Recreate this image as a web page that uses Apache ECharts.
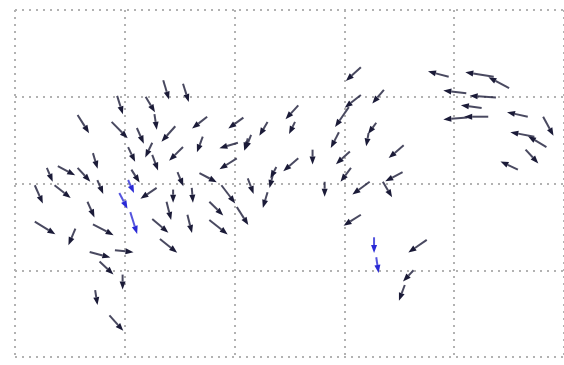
<!DOCTYPE html>
<html>
<head>
<meta charset="utf-8">
<script src="https://cdn.jsdelivr.net/npm/echarts@6/dist/echarts.min.js"></script>
<style>
  html, body { margin: 0; padding: 0; background: #fff; }
  #chart { width: 564px; height: 365px; filter: blur(0.6px); }
</style>
</head>
<body>
<div id="chart"></div>
<script>
// quiver arrows: tail position (x, y) and displacement (u, v)
const arrowX = [1.35, 1.53, 0.93, 1.19, 1.27, 0.57, 0.88, 1.11, 1.46, 1.75, 1.71, 2.08, 2.30, 2.03, 2.15, 2.02, 1.25, 1.03, 1.53, 0.71,
  0.29, 0.39, 0.57, 1.25, 1.68, 2.38, 3.15, 3.95, 4.36, 4.50, 4.11, 4.38, 4.25, 4.31, 4.12, 4.67, 4.81, 4.73, 4.84, 4.65,
  4.58, 3.15, 3.04, 3.36, 2.58, 2.55, 2.95, 3.29, 3.22, 2.58, 2.71, 3.05, 3.54, 3.53, 3.06, 0.18, 0.36, 0.18, 0.55, 0.66,
  0.71, 0.91, 0.68, 0.77, 0.98, 0.73, 0.86, 0.95, 1.05, 1.25, 1.32, 1.38, 1.57, 1.77, 1.77, 2.02, 2.30, 1.29, 1.44, 1.61,
  3.15, 3.27, 3.29, 3.75, 3.63, 3.55, 2.82, 3.23, 3.35, 1.88, 2.12, 2.35, 2.12, 1.06, 1.03, 0.75, 1.48];
const arrowY = [3.19, 3.15, 3.01, 3.00, 2.80, 2.79, 2.71, 2.64, 2.66, 2.77, 2.54, 2.76, 2.71, 2.47, 2.56, 2.29, 2.47, 2.42, 2.42, 2.35,
  2.18, 2.20, 2.18, 2.33, 2.12, 2.19, 3.34, 3.23, 3.23, 3.10, 3.04, 2.99, 2.87, 2.77, 2.76, 2.77, 2.77, 2.54, 2.42, 2.39,
  2.16, 3.02, 2.88, 3.08, 2.90, 2.71, 2.59, 2.70, 2.58, 2.29, 2.39, 2.37, 2.44, 2.13, 2.18, 1.98, 1.98, 1.56, 1.48, 1.79,
  1.53, 1.23, 1.21, 1.10, 0.95, 0.77, 0.48, 1.89, 1.67, 1.59, 1.36, 1.79, 1.64, 1.79, 1.58, 1.73, 1.90, 1.95, 1.93, 1.95,
  1.64, 1.38, 1.15, 1.35, 1.00, 0.83, 2.02, 2.02, 2.02, 1.98, 2.06, 2.11, 2.52, 2.16, 2.04, 2.04, 2.13];
const arrowU = [0.05, 0.05, 0.05, 0.08, 0.02, 0.10, 0.14, 0.06, -0.12, -0.13, -0.05, -0.13, -0.07, -0.16, -0.05, -0.15, -0.06, 0.06, -0.12, 0.04,
  0.05, 0.15, 0.11, 0.05, 0.15, -0.05, -0.13, -0.18, -0.25, -0.18, -0.20, -0.23, -0.18, -0.21, -0.21, -0.18, 0.09, -0.21, -0.16, 0.11,
  -0.15, -0.14, -0.12, -0.10, -0.11, -0.05, -0.07, -0.07, -0.02, -0.13, 0.00, -0.12, -0.13, -0.15, -0.09, 0.07, 0.14, 0.18, -0.06, 0.06,
  0.18, 0.16, 0.18, 0.12, 0.00, 0.02, 0.12, 0.07, 0.06, 0.14, 0.15, 0.04, 0.04, 0.12, 0.16, 0.10, -0.04, -0.14, 0.00, 0.01,
  -0.15, 0.00, 0.02, -0.16, -0.09, -0.05, 0.00, -0.15, 0.08, 0.12, 0.05, -0.03, -0.03, 0.07, 0.05, 0.05, 0.05];
const arrowV = [-0.21, -0.20, -0.20, -0.17, -0.17, -0.20, -0.18, -0.17, -0.17, -0.13, -0.17, -0.12, -0.15, -0.06, -0.16, -0.12, -0.16, -0.16, -0.15, -0.17,
  -0.15, -0.10, -0.15, -0.17, -0.10, -0.12, -0.15, 0.06, 0.05, 0.12, 0.03, 0.02, 0.03, 0.00, -0.02, 0.05, -0.21, 0.05, 0.12, -0.15,
  0.09, -0.14, -0.22, -0.15, -0.15, -0.13, -0.17, -0.12, -0.14, -0.14, -0.16, -0.14, -0.14, -0.10, -0.15, -0.20, -0.14, -0.14, -0.18, -0.17,
  -0.12, -0.02, -0.06, -0.14, -0.16, -0.16, -0.17, -0.17, -0.24, -0.15, -0.15, -0.20, -0.20, -0.15, -0.16, -0.20, -0.17, -0.12, -0.14, -0.16,
  -0.12, -0.17, -0.17, -0.14, -0.12, -0.17, -0.16, -0.14, -0.17, -0.20, -0.17, -0.15, -0.13, -0.14, -0.14, -0.15, -0.15];
// 1 = drawn in the brighter blue seen in the reference
const arrowBlue = [0, 0, 0, 0, 0, 0, 0, 0, 0, 0, 0, 0, 0, 0, 0, 0, 0, 0, 0, 0,
  0, 0, 0, 0, 0, 0, 0, 0, 0, 0, 0, 0, 0, 0, 0, 0, 0, 0, 0, 0,
  0, 0, 0, 0, 0, 0, 0, 0, 0, 0, 0, 0, 0, 0, 0, 0, 0, 0, 0, 0,
  0, 0, 0, 0, 0, 0, 0, 1, 1, 0, 0, 0, 0, 0, 0, 0, 0, 0, 0, 0,
  0, 1, 1, 0, 0, 0, 0, 0, 0, 0, 0, 0, 0, 0, 1, 0, 0];

const xTicks = [0, 5];
const yTicks = [0, 4];

const darkData = [];
const blueData = [];
arrowX.forEach((x, i) => {
  const row = [x, arrowY[i], arrowU[i], arrowV[i]];
  (arrowBlue[i] ? blueData : darkData).push(row);
});

function arrowItem(color) {
  return function (params, api) {
    const x = api.value(0), y = api.value(1);
    const p0 = api.coord([x, y]);
    const p1 = api.coord([x + api.value(2), y + api.value(3)]);
    const dx = p1[0] - p0[0], dy = p1[1] - p0[1];
    const len = Math.hypot(dx, dy) || 1;
    const ux = dx / len, uy = dy / len;
    const hl = 7, hw = 3;
    const bx = p1[0] - ux * hl, by = p1[1] - uy * hl;
    return {
      type: 'group',
      children: [
        {
          type: 'line',
          shape: { x1: p0[0], y1: p0[1], x2: bx, y2: by },
          style: { stroke: color, lineWidth: 2, opacity: 0.8 }
        },
        {
          type: 'polygon',
          shape: { points: [[p1[0] + ux, p1[1] + uy], [bx - uy * hw, by + ux * hw], [bx + uy * hw, by - ux * hw]] },
          style: { fill: color }
        }
      ]
    };
  };
}

const gridLine = {
  show: true,
  lineStyle: { color: '#b2b2b2', width: 2, type: [2, 5] }
};

const option = {
  animation: false,
  backgroundColor: '#fff',
  grid: { left: 15, top: 10, width: 550, height: 347, show: false },
  xAxis: {
    type: 'value',
    min: xTicks[0],
    max: xTicks[1],
    interval: 1,
    axisLine: { show: false },
    axisTick: { show: false },
    axisLabel: { show: false },
    splitLine: gridLine
  },
  yAxis: {
    type: 'value',
    min: yTicks[0],
    max: yTicks[1],
    interval: 1,
    axisLine: { show: false },
    axisTick: { show: false },
    axisLabel: { show: false },
    splitLine: gridLine
  },
  series: [
    { type: 'custom', name: 'dark', renderItem: arrowItem('#1b1b38'), data: darkData, clip: false },
    { type: 'custom', name: 'blue', renderItem: arrowItem('#2a2ad6'), data: blueData, clip: false }
  ]
};

const chart = echarts.init(document.getElementById('chart'));
chart.setOption(option);
</script>
</body>
</html>
